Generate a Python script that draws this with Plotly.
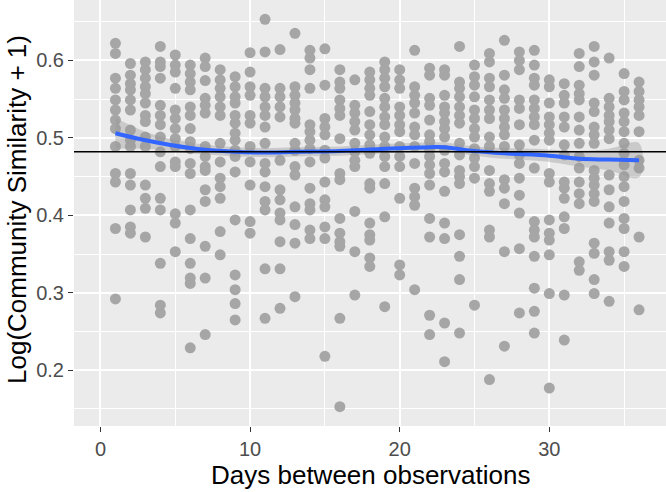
import plotly.graph_objects as go

# days between observations, one column of points per day
days = list(range(1, 37))

# log(community similarity + 1), read per day column
sims = [
    [0.622, 0.609, 0.577, 0.564, 0.549, 0.536, 0.523, 0.512, 0.489, 0.454, 0.443, 0.383, 0.292],
    [0.596, 0.581, 0.570, 0.562, 0.549, 0.536, 0.510, 0.497, 0.489, 0.454, 0.439, 0.407, 0.385, 0.377],
    [0.598, 0.588, 0.577, 0.566, 0.557, 0.545, 0.529, 0.521, 0.501, 0.489, 0.439, 0.422, 0.409, 0.372],
    [0.618, 0.598, 0.592, 0.577, 0.542, 0.529, 0.517, 0.501, 0.482, 0.463, 0.422, 0.407, 0.338, 0.284, 0.274],
    [0.607, 0.594, 0.585, 0.564, 0.536, 0.525, 0.512, 0.499, 0.489, 0.469, 0.463, 0.402, 0.390, 0.353],
    [0.594, 0.583, 0.572, 0.562, 0.540, 0.529, 0.512, 0.495, 0.486, 0.467, 0.454, 0.407, 0.370, 0.338, 0.319, 0.312, 0.229],
    [0.603, 0.592, 0.574, 0.551, 0.542, 0.532, 0.489, 0.476, 0.463, 0.458, 0.433, 0.418, 0.360, 0.319, 0.246],
    [0.588, 0.575, 0.564, 0.553, 0.540, 0.529, 0.493, 0.469, 0.448, 0.437, 0.422, 0.379, 0.349],
    [0.579, 0.566, 0.553, 0.545, 0.529, 0.519, 0.506, 0.497, 0.484, 0.476, 0.456, 0.394, 0.323, 0.304, 0.286, 0.265],
    [0.610, 0.585, 0.566, 0.555, 0.529, 0.519, 0.489, 0.469, 0.439, 0.392, 0.377],
    [0.653, 0.611, 0.564, 0.553, 0.540, 0.529, 0.514, 0.493, 0.467, 0.456, 0.437, 0.418, 0.407, 0.331, 0.267],
    [0.614, 0.564, 0.553, 0.540, 0.527, 0.471, 0.433, 0.420, 0.403, 0.394, 0.366, 0.331, 0.280],
    [0.635, 0.566, 0.555, 0.545, 0.536, 0.525, 0.519, 0.493, 0.484, 0.463, 0.452, 0.411, 0.388, 0.364, 0.295],
    [0.613, 0.603, 0.588, 0.564, 0.517, 0.508, 0.497, 0.486, 0.469, 0.435, 0.415, 0.407, 0.381, 0.370],
    [0.615, 0.568, 0.525, 0.514, 0.504, 0.484, 0.474, 0.443, 0.420, 0.411, 0.385, 0.370, 0.218],
    [0.588, 0.572, 0.564, 0.549, 0.538, 0.529, 0.499, 0.454, 0.446, 0.396, 0.377, 0.366, 0.360, 0.267, 0.153],
    [0.575, 0.542, 0.532, 0.521, 0.510, 0.493, 0.482, 0.471, 0.463, 0.405, 0.353, 0.297],
    [0.585, 0.575, 0.564, 0.555, 0.534, 0.517, 0.504, 0.491, 0.480, 0.441, 0.435, 0.390, 0.375, 0.368, 0.345, 0.334],
    [0.598, 0.588, 0.577, 0.566, 0.551, 0.540, 0.527, 0.517, 0.501, 0.489, 0.476, 0.463, 0.441, 0.398, 0.282],
    [0.588, 0.575, 0.564, 0.540, 0.529, 0.517, 0.508, 0.489, 0.476, 0.463, 0.422, 0.336, 0.323],
    [0.613, 0.566, 0.555, 0.545, 0.532, 0.514, 0.504, 0.489, 0.467, 0.435, 0.424, 0.413, 0.304],
    [0.590, 0.581, 0.551, 0.542, 0.523, 0.504, 0.495, 0.484, 0.476, 0.465, 0.454, 0.439, 0.396, 0.372, 0.271, 0.246],
    [0.588, 0.581, 0.555, 0.540, 0.532, 0.521, 0.512, 0.501, 0.484, 0.467, 0.456, 0.431, 0.390, 0.370, 0.261, 0.211],
    [0.618, 0.572, 0.564, 0.553, 0.540, 0.529, 0.519, 0.493, 0.478, 0.458, 0.450, 0.441, 0.375, 0.347, 0.317, 0.248],
    [0.594, 0.579, 0.568, 0.553, 0.536, 0.525, 0.512, 0.501, 0.486, 0.474, 0.463, 0.448, 0.284],
    [0.609, 0.598, 0.577, 0.566, 0.549, 0.536, 0.525, 0.501, 0.489, 0.458, 0.441, 0.431, 0.381, 0.372, 0.188],
    [0.626, 0.581, 0.562, 0.551, 0.536, 0.525, 0.514, 0.504, 0.489, 0.446, 0.435, 0.415, 0.353, 0.231],
    [0.611, 0.600, 0.588, 0.549, 0.538, 0.517, 0.491, 0.478, 0.467, 0.448, 0.426, 0.403, 0.357, 0.274],
    [0.613, 0.594, 0.577, 0.568, 0.549, 0.538, 0.527, 0.517, 0.497, 0.461, 0.392, 0.381, 0.372, 0.347, 0.306, 0.276, 0.248],
    [0.575, 0.566, 0.545, 0.527, 0.517, 0.506, 0.497, 0.454, 0.443, 0.394, 0.377, 0.368, 0.349, 0.299, 0.177],
    [0.570, 0.555, 0.545, 0.527, 0.514, 0.491, 0.478, 0.443, 0.435, 0.422, 0.398, 0.383, 0.297, 0.239],
    [0.609, 0.592, 0.568, 0.557, 0.549, 0.527, 0.510, 0.493, 0.476, 0.461, 0.443, 0.428, 0.415, 0.340, 0.329],
    [0.618, 0.598, 0.581, 0.545, 0.534, 0.514, 0.504, 0.493, 0.458, 0.448, 0.439, 0.428, 0.418, 0.364, 0.351, 0.317, 0.299],
    [0.603, 0.551, 0.540, 0.529, 0.521, 0.510, 0.499, 0.452, 0.433, 0.411, 0.390, 0.353, 0.342, 0.289],
    [0.583, 0.560, 0.549, 0.532, 0.521, 0.508, 0.493, 0.480, 0.465, 0.450, 0.437, 0.418, 0.396, 0.383, 0.353, 0.334],
    [0.572, 0.560, 0.549, 0.540, 0.529, 0.508, 0.471, 0.461, 0.372, 0.278],
]

# loess fit and its confidence band
smooth_days = [1, 3, 6, 9, 11, 13, 16, 19, 22, 23, 25, 27, 30, 32, 34, 36]
smooth_fit = [0.506, 0.497, 0.487, 0.482, 0.481, 0.482, 0.483, 0.486, 0.488, 0.488, 0.483, 0.480, 0.477, 0.473, 0.472, 0.471]
smooth_lo = [0.486, 0.486, 0.480, 0.476, 0.475, 0.476, 0.477, 0.480, 0.482, 0.482, 0.477, 0.473, 0.469, 0.463, 0.458, 0.449]
smooth_hi = [0.526, 0.508, 0.494, 0.488, 0.487, 0.488, 0.489, 0.492, 0.494, 0.494, 0.489, 0.487, 0.485, 0.483, 0.486, 0.493]

mean_sim = 0.482

xs, ys = [], []
for d, vals in zip(days, sims):
    xs += [d] * len(vals)
    ys += vals

fig = go.Figure()
fig.add_trace(go.Scatter(x=xs, y=ys, mode="markers",
                         marker=dict(color="#A6A6A6", size=11, line=dict(width=0)),
                         showlegend=False))
fig.add_trace(go.Scatter(x=smooth_days + smooth_days[::-1], y=smooth_hi + smooth_lo[::-1],
                         fill="toself", fillcolor="rgba(153,153,153,0.4)",
                         line=dict(width=0, shape="spline"), mode="lines", showlegend=False))
fig.add_trace(go.Scatter(x=smooth_days, y=smooth_fit, mode="lines",
                         line=dict(color="#3366FF", width=4, shape="spline"), showlegend=False))
fig.add_hline(y=mean_sim, line=dict(color="black", width=1.6))

font_family = "Liberation Sans, Arial, sans-serif"
tick_font = dict(family=font_family, size=20, color="#4D4D4D")
title_font = dict(family=font_family, size=26, color="black")

fig.update_xaxes(range=[-1.77, 37.8], tickvals=[0, 10, 20, 30], showgrid=True,
                 gridcolor="white", gridwidth=1.6, zeroline=False, automargin=False,
                 minor=dict(tickvals=[5, 15, 25, 35], showgrid=True, gridcolor="white", gridwidth=0.8),
                 ticks="outside", ticklen=5, tickwidth=1.1, tickcolor="#333333",
                 tickfont=tick_font)
fig.update_yaxes(range=[0.128, 0.678], tickvals=[0.2, 0.3, 0.4, 0.5, 0.6], showgrid=True,
                 gridcolor="white", gridwidth=1.6, zeroline=False, automargin=False,
                 minor=dict(tickvals=[0.15, 0.25, 0.35, 0.45, 0.55, 0.65], showgrid=True, gridcolor="white", gridwidth=0.8),
                 ticks="outside", ticklen=5, tickwidth=1.1, tickcolor="#333333",
                 tickfont=tick_font)

# axis titles as annotations so they sit where the reference has them
fig.add_annotation(text="Days between observations", xref="paper", yref="paper",
                   x=0.5, y=0, xanchor="center", yanchor="bottom", yshift=-66,
                   showarrow=False, font=title_font)
fig.add_annotation(text="Log(Community Similarity + 1)", xref="paper", yref="paper",
                   x=0, y=0.5, xanchor="center", yanchor="middle", xshift=-57, yshift=3,
                   textangle=-90, showarrow=False, font=title_font)

fig.update_layout(
    width=666, height=492,
    margin=dict(l=74, r=0, t=0, b=66),
    plot_bgcolor="#EBEBEB", paper_bgcolor="white",
)
# drop the browser's default body margin so the figure sits at the page corner
fig.write_html("out.html", config={"displayModeBar": False},
               post_script="document.body.style.margin='0';")
